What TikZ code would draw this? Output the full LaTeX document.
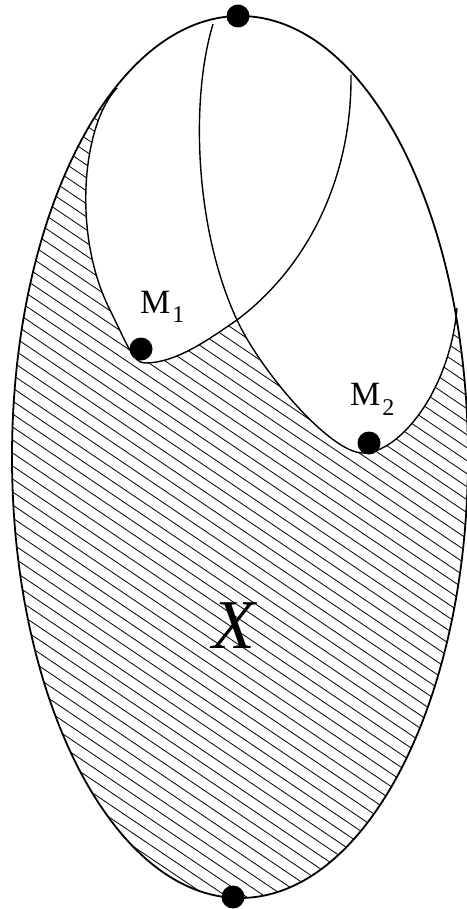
\documentclass[tikz,border=0pt]{standalone}
\usepackage{fontspec}
\setmainfont{Liberation Serif}
\begin{document}
\begin{tikzpicture}[x=1pt,y=-1pt,
  bnd/.style={line width=1.8pt},
  crv/.style={line width=1.4pt},
  hatchln/.style={line width=0.8pt},
  dot/.style={circle,fill=black,inner sep=0pt,minimum size=23pt},
  lbl/.style={inner sep=0pt,anchor=base west,font=\fontsize{34}{34}\selectfont}]
\useasboundingbox (0,0) rectangle (466,909);
\fill[white] (0,0) rectangle (466,909);

% hatched region X
\begin{scope}
\clip (240,457) ++(-19.5:228 and 441)
  arc[start angle=-19.5, end angle=237.2, x radius=228, y radius=441]
  -- (117,88)
  .. controls (82,125) and (72,235) .. (110,310)
  .. controls (127,344) and (133,363) .. (145,363)
  .. controls (175,363) and (205,342) .. (237,320)
  .. controls (260,370) and (330,453) .. (363,453)
  .. controls (400,453) and (450,390) .. (457,308) -- cycle;
\foreach \i in {-40,...,75}
  \draw[hatchln] (-100,\i*13) -- ++(800,540);
\end{scope}

% outer oval
\draw[bnd] (240,457) ellipse [x radius=228, y radius=441];

% lobe of M1
\draw[crv] (117,88)
  .. controls (82,125) and (72,235) .. (110,310)
  .. controls (127,344) and (133,363) .. (145,363)
  .. controls (175,363) and (205,342) .. (237,320)
  .. controls (310,265) and (352,175) .. (351,75);

% lobe of M2
\draw[crv] (213,24)
  .. controls (190,100) and (195,230) .. (237,320)
  .. controls (260,370) and (330,453) .. (363,453)
  .. controls (400,453) and (450,390) .. (457,308);

% points
\node[dot] (top) at (238,16) {};
\node[dot] (bot) at (233,897) {};
\node[dot] (m1) at (141,349) {};
\node[dot] (m2) at (369,443) {};

% labels
\node[lbl] (m1lbl) at (140,313) {M\kern2pt\raisebox{-9pt}{\fontsize{24}{24}\selectfont 1}};
\node[lbl] (m2lbl) at (350,405) {M\kern2pt\raisebox{-10pt}{\fontsize{24}{24}\selectfont 2}};
\node[inner sep=0pt,anchor=base,font=\fontsize{70}{70}\selectfont\itshape] (xlbl) at (234,648) {X};
\end{tikzpicture}
\end{document}
